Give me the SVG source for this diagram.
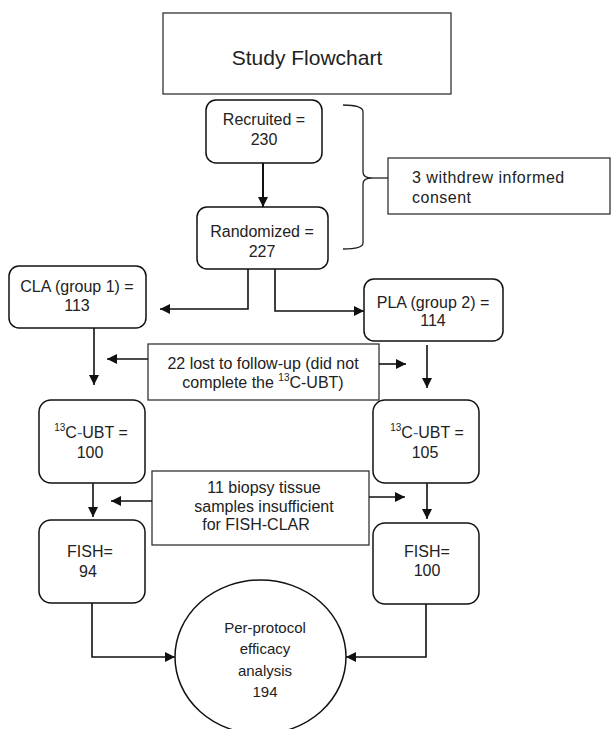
<svg xmlns="http://www.w3.org/2000/svg" width="613" height="729" viewBox="0 0 613 729">
<defs>
<marker id="ah" markerUnits="userSpaceOnUse" markerWidth="11" markerHeight="11" refX="10" refY="5" orient="auto">
<path d="M0,0 L10,5 L0,10 z" fill="#111"/>
</marker>
<style>
text{font-family:"Liberation Sans",Arial,sans-serif;fill:#222;}
.t{font-size:16px;text-anchor:middle;}
.e{font-size:15px;text-anchor:middle;}
.sup{font-size:10px;}
.node{fill:#fff;stroke:#111;stroke-width:1.5;}
.box{fill:#fff;stroke:#333;stroke-width:1.3;}
.c{fill:none;stroke:#111;stroke-width:1.6;marker-end:url(#ah);}
.blue{fill:#2a6fc9;}
</style>
</defs>
<rect width="613" height="729" fill="#fff"/>

<g id="title">
<rect class="box" x="163" y="13" width="288" height="81"/>
<text x="307" y="65" style="font-size:21px;text-anchor:middle">Study Flowchart</text>
</g>

<g id="recruited">
<rect class="node" x="206" y="100" width="116" height="63" rx="10"/>
<text class="t" x="264" y="125">Recruited =</text>
<text class="t" x="264" y="145">230</text>
</g>

<g id="randomized">
<rect class="node" x="197" y="207" width="131" height="62" rx="10"/>
<text class="t" x="262" y="237">Randomized =</text>
<text class="t" x="262" y="257">227</text>
</g>

<g id="withdrew">
<rect class="box" x="388" y="158" width="222" height="56"/>
<text x="412" y="183" style="font-size:16px;letter-spacing:0.5px">3 withdrew informed</text>
<text x="412" y="203" style="font-size:16px;letter-spacing:0.5px">consent</text>
</g>

<g id="cla">
<rect class="node" x="9" y="266" width="137" height="62" rx="10"/>
<text class="t" x="77" y="292">CLA (group 1) =</text>
<text class="t" x="77" y="311">113</text>
</g>

<g id="pla">
<rect class="node" x="364" y="279" width="139" height="62" rx="10"/>
<text class="t" x="433" y="308">PLA (group 2) =</text>
<text class="t" x="433" y="326">114</text>
</g>

<g id="lost">
<rect class="box" x="148" y="344" width="231" height="56"/>
<text class="t" x="263" y="369">22 lost to follow-up (did not</text>
<text class="t" x="263" y="388">complete the <tspan class="sup" dy="-7">13</tspan><tspan dy="7">C-UBT)</tspan></text>
</g>

<g id="ubt1">
<rect class="node" x="39" y="400" width="106" height="83" rx="12"/>
<text class="t" x="91" y="438"><tspan class="sup" dy="-7">13</tspan><tspan dy="7">C</tspan><tspan class="blue">-</tspan>UBT =</text>
<text class="t" x="90" y="458">100</text>
</g>

<g id="ubt2">
<rect class="node" x="373" y="400" width="106" height="83" rx="12"/>
<text class="t" x="427" y="438"><tspan class="sup" dy="-7">13</tspan><tspan dy="7">C</tspan><tspan class="blue">-</tspan>UBT =</text>
<text class="t" x="425" y="458">105</text>
</g>

<g id="biopsy">
<rect class="box" x="152" y="471" width="217" height="74"/>
<text class="t" x="264" y="493">11 biopsy tissue</text>
<text class="t" x="264" y="512">samples insufficient</text>
<text class="t" x="256" y="530">for FISH-CLAR</text>
</g>

<g id="fish1">
<rect class="node" x="39" y="520" width="106" height="83" rx="12"/>
<text class="t" x="90" y="557">FISH=</text>
<text class="t" x="88" y="577">94</text>
</g>

<g id="fish2">
<rect class="node" x="373" y="523" width="106" height="81" rx="12"/>
<text class="t" x="427" y="557">FISH=</text>
<text class="t" x="427" y="576">100</text>
</g>

<g id="analysis">
<ellipse class="node" cx="260.5" cy="657" rx="85.5" ry="77"/>
<text class="e" x="265" y="633">Per-protocol</text>
<text class="e" x="265" y="654">efficacy</text>
<text class="e" x="265" y="676">analysis</text>
<text class="e" x="265" y="697">194</text>
</g>

<g id="connectors">
<path class="c" d="M263,163 V207" style="stroke-width:2"/>
<path class="c" d="M248,269 V309 H160"/>
<path class="c" d="M275,269 V311 H364"/>
<path class="c" d="M94,328 V385"/>
<path class="c" d="M148,359 H107"/>
<path class="c" d="M379,364 H406"/>
<path class="c" d="M427,345 V388"/>
<path class="c" d="M93,483 V517"/>
<path class="c" d="M152,501 H111"/>
<path class="c" d="M369,497 H405"/>
<path class="c" d="M427,483 V519"/>
<path class="c" d="M92,603 V657 H175"/>
<path class="c" d="M426,604 V657 H346"/>
<path d="M343,105 Q363,105 363,112 V172 Q363,178 372,178 Q363,178 363,184 V243 Q363,249 343,249" fill="none" stroke="#222" stroke-width="1.3"/>
<path d="M372,178 H388" fill="none" stroke="#222" stroke-width="1.3"/>
</g>
</svg>
